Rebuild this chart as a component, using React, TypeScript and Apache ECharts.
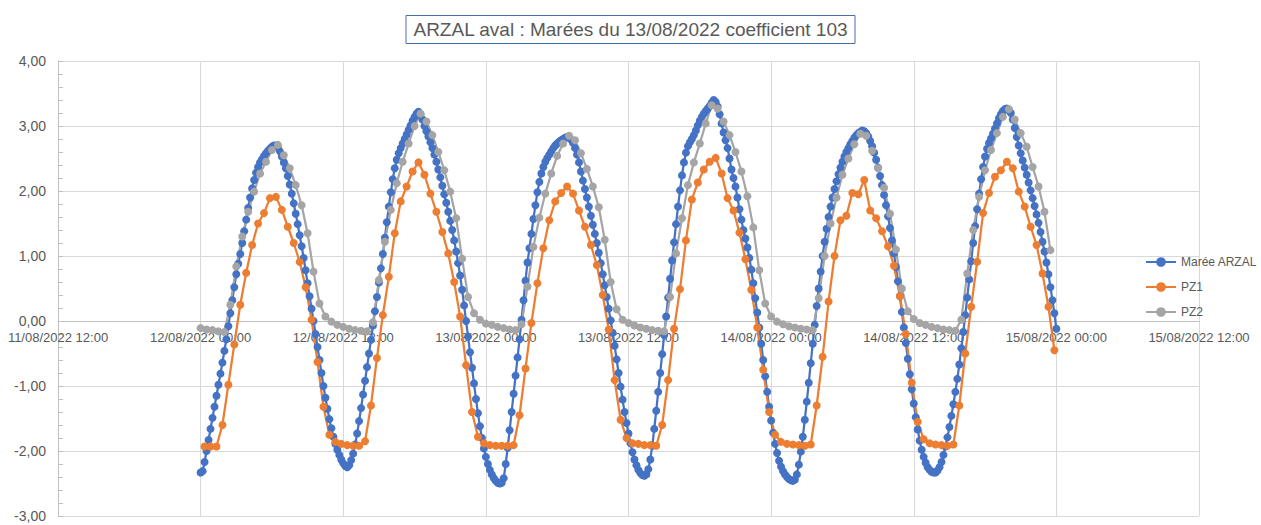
import React, { useEffect, useRef } from 'react';
import * as echarts from 'echarts';

const TITLE = 'ARZAL aval : Marées du 13/08/2022 coefficient 103';
const SERIES_NAMES = ['Marée ARZAL', 'PZ1', 'PZ2'];
const COLORS = ['#4472C4', '#ED7D31', '#A5A5A5'];

// hours counted from 12/08/2022 00:00
const X_MIN_H = -12;
const X_MAX_H = 84;
const X_STEP_H = 12;
const Y_MIN = -3;
const Y_MAX = 4;

// Marée ARZAL : one reading every 10 minutes from 12/08/2022 00:00 (one row = one hour)
const ARZAL_START_H = 0;
const ARZAL_STEP_H = 1 / 6;
const ARZAL = [
  -2.33, -2.31, -2.17, -2.0, -1.83, -1.66,
  -1.49, -1.32, -1.15, -0.98, -0.81, -0.64,
  -0.46, -0.28, -0.08, 0.12, 0.32, 0.52,
  0.72, 0.88, 1.03, 1.2, 1.38, 1.56,
  1.74, 1.9, 2.04, 2.17, 2.28, 2.37,
  2.44, 2.49, 2.54, 2.58, 2.62, 2.65,
  2.68, 2.7, 2.7, 2.67, 2.61, 2.53,
  2.44, 2.35, 2.23, 2.1, 1.96, 1.81,
  1.65, 1.49, 1.32, 1.15, 0.97, 0.78,
  0.58, 0.38, 0.19, 0.0, -0.2, -0.4,
  -0.6, -0.8, -1.0, -1.18, -1.35, -1.51,
  -1.65, -1.78, -1.89, -1.98, -2.06, -2.13,
  -2.19, -2.23, -2.25, -2.22, -2.14, -2.04,
  -1.9, -1.73, -1.54, -1.34, -1.13, -0.92,
  -0.71, -0.5, -0.29, -0.07, 0.15, 0.37,
  0.59, 0.81, 1.03, 1.28, 1.52, 1.76,
  1.98, 2.18, 2.35, 2.48, 2.58, 2.66,
  2.73, 2.8, 2.87, 2.94, 3.01, 3.08,
  3.14, 3.19, 3.22, 3.18, 3.1, 3.0,
  2.92, 2.84, 2.75, 2.66, 2.56, 2.45,
  2.33, 2.21, 2.08, 1.95, 1.82, 1.68,
  1.54, 1.4, 1.24, 1.07, 0.89, 0.7,
  0.48, 0.24, 0.0, -0.24, -0.48, -0.72,
  -0.96, -1.2, -1.42, -1.62, -1.8, -1.96,
  -2.09, -2.2, -2.29, -2.36, -2.42, -2.46,
  -2.49, -2.5, -2.49, -2.42, -2.2, -1.95,
  -1.68, -1.4, -1.12, -0.84, -0.56, -0.28,
  0.02, 0.32, 0.62, 0.9, 1.12, 1.34,
  1.57, 1.78, 1.98, 2.14, 2.27, 2.37,
  2.45, 2.51, 2.56, 2.61, 2.66, 2.7,
  2.73, 2.76, 2.78, 2.8, 2.82, 2.83,
  2.82, 2.79, 2.74, 2.66, 2.56, 2.44,
  2.3, 2.16, 2.03, 1.9, 1.76, 1.62,
  1.48, 1.34, 1.2, 1.05, 0.89, 0.72,
  0.55, 0.37, 0.19, 0.01, -0.18, -0.38,
  -0.59, -0.8, -1.01, -1.21, -1.4, -1.57,
  -1.73, -1.88, -2.02, -2.13, -2.22, -2.29,
  -2.34, -2.37, -2.38, -2.36, -2.28, -2.13,
  -1.92, -1.66, -1.38, -1.09, -0.8, -0.51,
  -0.22, 0.07, 0.36, 0.65, 0.93, 1.21,
  1.49, 1.76, 2.01, 2.24, 2.44, 2.59,
  2.69, 2.75, 2.8, 2.86, 2.93, 3.01,
  3.08, 3.14, 3.19, 3.23, 3.27, 3.31,
  3.36, 3.4, 3.37, 3.3, 3.18, 3.04,
  2.9, 2.78, 2.66, 2.5, 2.33, 2.2,
  2.07, 1.9, 1.72, 1.56, 1.4, 1.27,
  1.13, 0.97, 0.79, 0.58, 0.35, 0.13,
  -0.1, -0.35, -0.6, -0.85, -1.09, -1.32,
  -1.53, -1.72, -1.89, -2.03, -2.15, -2.24,
  -2.31, -2.36, -2.4, -2.43, -2.45, -2.46,
  -2.44, -2.36, -2.21, -2.01, -1.78, -1.52,
  -1.24, -0.95, -0.65, -0.35, -0.06, 0.23,
  0.5, 0.76, 1.0, 1.22, 1.42, 1.6,
  1.76, 1.9, 2.03, 2.15, 2.26, 2.36,
  2.45, 2.53, 2.6, 2.66, 2.72, 2.77,
  2.82, 2.86, 2.89, 2.91, 2.93, 2.92,
  2.89, 2.84, 2.77, 2.69, 2.59, 2.48,
  2.36, 2.23, 2.09, 1.94, 1.78, 1.61,
  1.43, 1.24, 1.04, 0.83, 0.61, 0.38,
  0.14, -0.1, -0.34, -0.58, -0.82, -1.05,
  -1.27, -1.48, -1.67, -1.84, -1.98, -2.09,
  -2.18, -2.25, -2.29, -2.32, -2.33, -2.33,
  -2.3, -2.25, -2.17, -2.06, -1.93, -1.79,
  -1.63, -1.46, -1.28, -1.09, -0.89, -0.67,
  -0.42, -0.17, 0.09, 0.36, 0.64, 0.92,
  1.2, 1.46, 1.72, 1.96, 2.18, 2.37,
  2.53, 2.65, 2.74, 2.81, 2.88, 2.96,
  3.04, 3.12, 3.18, 3.23, 3.26, 3.27,
  3.25, 3.2, 3.1, 2.97, 2.83, 2.7,
  2.58, 2.47, 2.36, 2.25, 2.13, 2.01,
  1.89, 1.77, 1.64, 1.51, 1.37, 1.22,
  1.07, 0.9, 0.72, 0.52, 0.32, 0.12,
  -0.12,
];

// PZ1 : one reading every 30 minutes from 12/08/2022 00:20
const PZ1_START_H = 1 / 3;
const PZ_STEP_H = 0.5;
const PZ1 = [
  -1.93, -1.93, -1.93, -1.6, -0.98, -0.36, 0.25, 0.74, 1.17, 1.5,
  1.66, 1.89, 1.91, 1.71, 1.45, 1.2, 0.91, 0.52, 0.02, -0.63,
  -1.32, -1.75, -1.86, -1.89, -1.91, -1.92, -1.92, -1.85, -1.3, -0.57,
  0.09, 0.68, 1.35, 1.84, 2.07, 2.3, 2.44, 2.25, 1.96, 1.68,
  1.37, 1.04, 0.6, 0.07, -0.68, -1.4, -1.78, -1.88, -1.91, -1.92,
  -1.92, -1.92, -1.91, -1.45, -0.73, -0.03, 0.58, 1.12, 1.55, 1.84,
  1.97, 2.07, 1.96, 1.7, 1.45, 1.17, 0.86, 0.4, -0.13, -0.91,
  -1.52, -1.8, -1.88, -1.89, -1.91, -1.91, -1.92, -1.6, -0.91, -0.12,
  0.49, 1.24, 1.87, 2.13, 2.33, 2.45, 2.51, 2.27, 1.89, 1.7,
  1.36, 0.95, 0.48, -0.1, -0.75, -1.4, -1.75, -1.86, -1.89, -1.9,
  -1.91, -1.92, -1.9, -1.3, -0.55, 0.3, 1.0, 1.55, 1.62, 1.97,
  1.95, 2.17, 1.7, 1.58, 1.38, 1.15, 0.85, 0.38, -0.2, -0.95,
  -1.55, -1.82, -1.88, -1.9, -1.91, -1.92, -1.9, -1.3, -0.5, 0.22,
  0.91, 1.66, 1.97, 2.22, 2.32, 2.45, 2.35, 1.99, 1.76, 1.45,
  1.17, 0.73, 0.22, -0.45,
];

// PZ2 : one reading every 30 minutes from 12/08/2022 00:00
const PZ2_START_H = 0;
const PZ2 = [
  -0.11, -0.13, -0.14, -0.16, -0.17, 0.25, 0.84, 1.3, 1.68, 1.99,
  2.27, 2.45, 2.63, 2.71, 2.55, 2.35, 2.09, 1.78, 1.35, 0.76,
  0.27, 0.07, -0.01, -0.06, -0.09, -0.12, -0.14, -0.15, -0.16, -0.02,
  0.63, 1.22, 1.71, 2.12, 2.45, 2.73, 3.0, 3.19, 3.07, 2.86,
  2.6, 2.32, 1.99, 1.58, 0.96, 0.37, 0.12, 0.02, -0.04, -0.06,
  -0.09, -0.11, -0.13, -0.14, -0.05, 0.53, 1.14, 1.59, 1.96, 2.27,
  2.54, 2.73, 2.85, 2.78, 2.58, 2.34, 2.07, 1.75, 1.25, 0.6,
  0.18, 0.02, -0.03, -0.07, -0.1, -0.12, -0.14, -0.15, -0.16, 0.37,
  1.04, 1.58, 2.09, 2.44, 2.73, 3.04, 3.32, 3.27, 3.07, 2.86,
  2.6, 2.3, 1.92, 1.44, 0.78, 0.27, 0.07, -0.01, -0.05, -0.08,
  -0.1, -0.12, -0.13, -0.14, 0.35, 1.0, 1.5, 1.9, 2.25, 2.5,
  2.72, 2.88, 2.85, 2.62, 2.35, 2.05, 1.65, 1.1, 0.5, 0.15,
  0.03, -0.03, -0.06, -0.09, -0.11, -0.13, -0.14, -0.15, 0.02, 0.73,
  1.4, 1.91, 2.32, 2.63, 2.89, 3.14, 3.26, 3.1, 2.89, 2.68,
  2.37, 2.07, 1.68, 1.09,
];

const BASE_DAY = 12; // hour 0 = 12/08/2022 00:00
const pad = (n: number) => (n < 10 ? '0' + n : '' + n);
const formatHour = (v: number) => {
  const h = Math.round(v);
  const dayOff = Math.floor(h / 24);
  const hh = ((h % 24) + 24) % 24;
  return `${pad(BASE_DAY + dayOff)}/08/2022 ${pad(hh)}:00`;
};
const formatValue = (v: number) => v.toFixed(2).replace('.', ',');

const toPairs = (vals: number[], start: number, step: number) =>
  vals.map((v, i) => [start + i * step, v]);

const FONT = "'Liberation Sans', Arial, sans-serif";
const TEXT_COLOR = '#595959';

// layout (pixels)
const GRID_TOP = 61;
const GRID_BOTTOM = 9;
const CHART_H = 525;
// the date axis crosses the value axis at 0: lift it from the grid bottom to the zero line
const ZERO_LIFT = -((CHART_H - GRID_TOP - GRID_BOTTOM) * (0 - Y_MIN)) / (Y_MAX - Y_MIN);

export default function App() {
  const ref = useRef<HTMLDivElement | null>(null);

  useEffect(() => {
    if (!ref.current) return;
    const chart = echarts.init(ref.current, undefined, { renderer: 'svg' });
    const seriesData = [
      toPairs(ARZAL, ARZAL_START_H, ARZAL_STEP_H),
      toPairs(PZ1, PZ1_START_H, PZ_STEP_H),
      toPairs(PZ2, PZ2_START_H, PZ_STEP_H),
    ];
    chart.setOption({
      animation: false,
      backgroundColor: '#ffffff',
      textStyle: { fontFamily: FONT },
      title: {
        text: TITLE,
        left: 'center',
        top: 15,
        padding: [5, 7],
        borderColor: '#4a6ea8',
        borderWidth: 1,
        textStyle: { fontSize: 19, fontWeight: 'normal', color: TEXT_COLOR, fontFamily: FONT },
      },
      legend: {
        orient: 'vertical',
        left: 1145,
        top: 256,
        padding: 0,
        itemWidth: 30,
        itemHeight: 12,
        itemGap: 13,
        textStyle: { fontSize: 12, color: TEXT_COLOR, fontFamily: FONT, overflow: 'none' },
        data: SERIES_NAMES,
      },
      grid: {
        left: 58,
        right: 62,
        top: GRID_TOP,
        bottom: GRID_BOTTOM,
        containLabel: false,
        outerBoundsMode: 'none',
      },
      xAxis: {
        type: 'value',
        position: 'bottom',
        offset: ZERO_LIFT,
        min: X_MIN_H,
        max: X_MAX_H,
        interval: X_STEP_H,
        axisLine: { show: true, onZero: false, lineStyle: { color: '#bfbfbf', width: 1 } },
        axisTick: { show: false },
        axisLabel: {
          formatter: formatHour,
          color: TEXT_COLOR,
          fontSize: 13,
          margin: 10,
          fontFamily: FONT,
          showMinLabel: true,
          showMaxLabel: true,
        },
        splitLine: { show: true, lineStyle: { color: '#d9d9d9', width: 1 } },
      },
      yAxis: {
        type: 'value',
        min: Y_MIN,
        max: Y_MAX,
        interval: 1,
        axisLine: { show: true, onZero: false, lineStyle: { color: '#bfbfbf', width: 1 } },
        axisTick: { show: true, inside: true, length: 5, lineStyle: { color: '#bfbfbf' } },
        minorTick: { show: true, splitNumber: 5, length: 5, lineStyle: { color: '#bfbfbf' } },
        axisLabel: { formatter: formatValue, color: TEXT_COLOR, fontSize: 14, margin: 12, fontFamily: FONT },
        splitLine: { show: true, lineStyle: { color: '#d9d9d9', width: 1 } },
      },
      series: SERIES_NAMES.map((name, idx) => ({
        name,
        type: 'line',
        data: seriesData[idx],
        symbol: 'circle',
        symbolSize: 8,
        showSymbol: true,
        showAllSymbol: true,
        color: COLORS[idx],
        lineStyle: { width: 2.25, color: COLORS[idx] },
        itemStyle: { color: COLORS[idx] },
        emphasis: { disabled: true },
      })),
    });
    return () => chart.dispose();
  }, []);

  return (
    <div
      ref={ref}
      style={{ position: 'absolute', left: 0, top: 0, width: 1261, height: CHART_H }}
    />
  );
}
